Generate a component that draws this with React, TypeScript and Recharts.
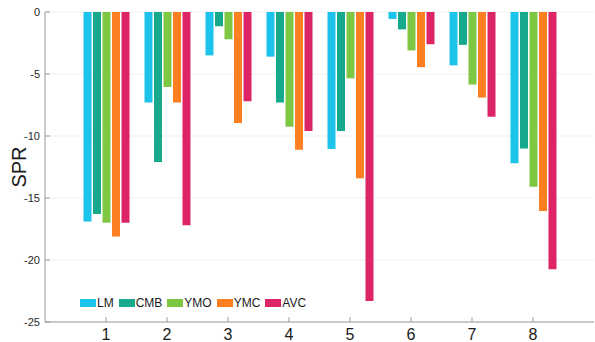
import { Bar, BarChart, CartesianGrid, Legend, XAxis, YAxis } from "recharts";

const categories = ["1", "2", "3", "4", "5", "6", "7", "8"];
const lm = [-16.9, -7.3, -3.5, -3.6, -11.05, -0.56, -4.3, -12.2];
const cmb = [-16.3, -12.1, -1.15, -7.3, -9.6, -1.4, -2.65, -11.0];
const ymo = [-17.0, -6.05, -2.2, -9.25, -5.35, -3.1, -5.85, -14.1];
const ymc = [-18.1, -7.3, -8.95, -11.1, -13.4, -4.45, -6.9, -16.05];
const avc = [-17.0, -17.2, -7.2, -9.6, -23.3, -2.6, -8.45, -20.75];
const yTicks = [-25, -20, -15, -10, -5, 0];
const topTicks = [1, 2, 3, 4, 5, 6, 7, 8];

const series = [
  { key: "LM", values: lm, color: "#1cc3eb" },
  { key: "CMB", values: cmb, color: "#17a98b" },
  { key: "YMO", values: ymo, color: "#7dc743" },
  { key: "YMC", values: ymc, color: "#fe7f22" },
  { key: "AVC", values: avc, color: "#dc2466" },
];

const data = categories.map((x, i) => {
  const row: Record<string, string | number> = { x };
  series.forEach((s) => {
    row[s.key] = s.values[i];
  });
  return row;
});

const font = "'Liberation Sans', Arial, Helvetica, sans-serif";
const axisColor = "#9c9c9c";

function LegendBox() {
  return (
    <div style={{ display: "flex", alignItems: "center", fontFamily: font, fontSize: 12, color: "#1a1a1a" }}>
      {series.map((s) => (
        <div key={s.key} style={{ display: "flex", alignItems: "center", marginRight: 5 }}>
          <span style={{ display: "inline-block", width: 16, height: 8, background: s.color, marginRight: 1 }} />
          <span>{s.key}</span>
        </div>
      ))}
    </div>
  );
}

export default function App() {
  return (
    <div style={{ position: "absolute", left: 0, top: 0, background: "#fff" }}>
      <BarChart
        width={595}
        height={342}
        data={data}
        margin={{ top: 12, right: 1, bottom: 0, left: 0 }}
        barSize={8}
        barGap={1.5}
      >
        <CartesianGrid vertical={false} stroke="#efefef" />
        <XAxis
          dataKey="x"
          height={20}
          padding={{ left: 30.5, right: 30.5 }}
          stroke={axisColor}
          tickSize={-5}
          tickMargin={12}
          tick={{ fontSize: 16, fill: "#1a1a1a", fontFamily: font }}
        />
        <XAxis
          xAxisId="top"
          orientation="top"
          type="number"
          domain={[0, 9]}
          ticks={topTicks}
          height={0}
          stroke={axisColor}
          tickSize={-5}
          tick={false}
        />
        <YAxis
          type="number"
          domain={[-25, 0]}
          ticks={yTicks}
          width={45}
          stroke={axisColor}
          tickSize={-5}
          tickMargin={10}
          tick={{ fontSize: 11, fill: "#262626", fontFamily: font }}
          label={{
            content: () => (
              <text
                x={19}
                y={167}
                transform="rotate(-90 19 167)"
                textAnchor="middle"
                dominantBaseline="central"
                fontSize={20}
                fontFamily={font}
                fill="#1a1a1a"
              >
                SPR
              </text>
            ),
          }}
        />
        <YAxis
          yAxisId="right"
          orientation="right"
          type="number"
          domain={[-25, 0]}
          ticks={yTicks}
          width={0}
          stroke={axisColor}
          tickSize={-5}
          tick={false}
        />
        <Legend
          layout="vertical"
          align="center"
          verticalAlign="middle"
          wrapperStyle={{ left: 80, top: 296, width: "auto" }}
          content={() => <LegendBox />}
        />
        {series.map((s) => (
          <Bar key={s.key} dataKey={s.key} fill={s.color} isAnimationActive={false} />
        ))}
      </BarChart>
    </div>
  );
}
